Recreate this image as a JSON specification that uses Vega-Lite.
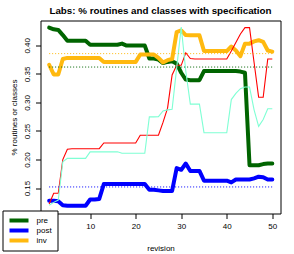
{
  "$schema": "https://vega.github.io/schema/vega-lite/v6.json",
  "width": 240,
  "height": 193,
  "autosize": {"type": "none"},
  "padding": {"left": 40.5, "top": 20.5, "right": 13.5, "bottom": 40.5},
  "background": "white",
  "title": {
    "text": "Labs: % routines and classes with specification",
    "font": "Liberation Sans",
    "fontSize": 9.8,
    "fontWeight": "bold",
    "color": "black",
    "anchor": "middle",
    "frame": "group",
    "offset": 5
  },
  "config": {
    "view": {"stroke": "black", "strokeWidth": 1},
    "axis": {
      "grid": false,
      "domain": false,
      "ticks": true,
      "tickColor": "black",
      "tickSize": 5,
      "labelOverlap": false,
      "labelFont": "Liberation Sans",
      "labelFontSize": 8,
      "labelColor": "black",
      "titleFont": "Liberation Sans",
      "titleFontSize": 8,
      "titleFontWeight": "normal",
      "titleColor": "black"
    },
    "legend": {
      "labelFont": "Liberation Sans",
      "labelFontSize": 8,
      "labelColor": "black"
    }
  },
  "datasets": {
    "series": [
      {"rev": 1, "pre": 0.431, "post": 0.128, "inv": 0.366, "red": 0.122, "aqua": 0.120},
      {"rev": 2, "pre": 0.428, "post": 0.128, "inv": 0.349, "red": 0.141, "aqua": 0.125},
      {"rev": 3, "pre": 0.427, "post": 0.127, "inv": 0.349, "red": 0.141, "aqua": 0.129},
      {"rev": 4, "pre": 0.418, "post": 0.120, "inv": 0.376, "red": 0.200, "aqua": 0.196},
      {"rev": 5, "pre": 0.408, "post": 0.119, "inv": 0.378, "red": 0.218, "aqua": 0.202},
      {"rev": 6, "pre": 0.408, "post": 0.119, "inv": 0.378, "red": 0.219, "aqua": 0.202},
      {"rev": 7, "pre": 0.408, "post": 0.119, "inv": 0.378, "red": 0.219, "aqua": 0.202},
      {"rev": 8, "pre": 0.408, "post": 0.119, "inv": 0.378, "red": 0.219, "aqua": 0.202},
      {"rev": 9, "pre": 0.408, "post": 0.119, "inv": 0.378, "red": 0.219, "aqua": 0.202},
      {"rev": 10, "pre": 0.401, "post": 0.130, "inv": 0.378, "red": 0.219, "aqua": 0.2135},
      {"rev": 11, "pre": 0.401, "post": 0.130, "inv": 0.378, "red": 0.219, "aqua": 0.2135},
      {"rev": 12, "pre": 0.401, "post": 0.131, "inv": 0.378, "red": 0.219, "aqua": 0.2135},
      {"rev": 13, "pre": 0.401, "post": 0.157, "inv": 0.371, "red": 0.229, "aqua": 0.2135},
      {"rev": 14, "pre": 0.401, "post": 0.157, "inv": 0.371, "red": 0.229, "aqua": 0.2135},
      {"rev": 15, "pre": 0.401, "post": 0.157, "inv": 0.371, "red": 0.229, "aqua": 0.2135},
      {"rev": 16, "pre": 0.401, "post": 0.157, "inv": 0.371, "red": 0.229, "aqua": 0.2135},
      {"rev": 17, "pre": 0.403, "post": 0.157, "inv": 0.371, "red": 0.229, "aqua": 0.211},
      {"rev": 18, "pre": 0.3995, "post": 0.157, "inv": 0.371, "red": 0.229, "aqua": 0.211},
      {"rev": 19, "pre": 0.3995, "post": 0.157, "inv": 0.371, "red": 0.229, "aqua": 0.211},
      {"rev": 20, "pre": 0.3995, "post": 0.157, "inv": 0.371, "red": 0.229, "aqua": 0.211},
      {"rev": 21, "pre": 0.3995, "post": 0.157, "inv": 0.384, "red": 0.2425, "aqua": 0.211},
      {"rev": 22, "pre": 0.3995, "post": 0.157, "inv": 0.384, "red": 0.2425, "aqua": 0.211},
      {"rev": 23, "pre": 0.377, "post": 0.147, "inv": 0.384, "red": 0.2425, "aqua": 0.2747},
      {"rev": 24, "pre": 0.377, "post": 0.147, "inv": 0.384, "red": 0.2425, "aqua": 0.2747},
      {"rev": 25, "pre": 0.375, "post": 0.146, "inv": 0.378, "red": 0.2425, "aqua": 0.275},
      {"rev": 26, "pre": 0.369, "post": 0.145, "inv": 0.370, "red": 0.265, "aqua": 0.285},
      {"rev": 27, "pre": 0.371, "post": 0.145, "inv": 0.374, "red": 0.290, "aqua": 0.287},
      {"rev": 28, "pre": 0.372, "post": 0.145, "inv": 0.376, "red": 0.348, "aqua": 0.288},
      {"rev": 29, "pre": 0.368, "post": 0.185, "inv": 0.423, "red": 0.365, "aqua": 0.360},
      {"rev": 30, "pre": 0.352, "post": 0.182, "inv": 0.426, "red": 0.365, "aqua": 0.432},
      {"rev": 31, "pre": 0.340, "post": 0.193, "inv": 0.418, "red": 0.387, "aqua": 0.355},
      {"rev": 32, "pre": 0.339, "post": 0.180, "inv": 0.4175, "red": 0.377, "aqua": 0.297},
      {"rev": 33, "pre": 0.339, "post": 0.180, "inv": 0.4175, "red": 0.376, "aqua": 0.297},
      {"rev": 34, "pre": 0.339, "post": 0.180, "inv": 0.4175, "red": 0.376, "aqua": 0.297},
      {"rev": 35, "pre": 0.355, "post": 0.163, "inv": 0.390, "red": 0.376, "aqua": 0.247},
      {"rev": 36, "pre": 0.355, "post": 0.163, "inv": 0.390, "red": 0.376, "aqua": 0.247},
      {"rev": 37, "pre": 0.355, "post": 0.163, "inv": 0.390, "red": 0.376, "aqua": 0.247},
      {"rev": 38, "pre": 0.355, "post": 0.163, "inv": 0.390, "red": 0.376, "aqua": 0.247},
      {"rev": 39, "pre": 0.355, "post": 0.163, "inv": 0.390, "red": 0.376, "aqua": 0.247},
      {"rev": 40, "pre": 0.355, "post": 0.163, "inv": 0.390, "red": 0.376, "aqua": 0.247},
      {"rev": 41, "pre": 0.355, "post": 0.160, "inv": 0.398, "red": 0.390, "aqua": 0.305},
      {"rev": 42, "pre": 0.355, "post": 0.165, "inv": 0.391, "red": 0.405, "aqua": 0.316},
      {"rev": 43, "pre": 0.354, "post": 0.165, "inv": 0.381, "red": 0.420, "aqua": 0.324},
      {"rev": 44, "pre": 0.352, "post": 0.165, "inv": 0.403, "red": 0.431, "aqua": 0.327},
      {"rev": 45, "pre": 0.190, "post": 0.165, "inv": 0.403, "red": 0.431, "aqua": 0.327},
      {"rev": 46, "pre": 0.190, "post": 0.167, "inv": 0.407, "red": 0.370, "aqua": 0.287},
      {"rev": 47, "pre": 0.190, "post": 0.170, "inv": 0.409, "red": 0.309, "aqua": 0.258},
      {"rev": 48, "pre": 0.192, "post": 0.169, "inv": 0.406, "red": 0.309, "aqua": 0.270},
      {"rev": 49, "pre": 0.193, "post": 0.165, "inv": 0.391, "red": 0.376, "aqua": 0.289},
      {"rev": 50, "pre": 0.193, "post": 0.165, "inv": 0.389, "red": 0.376, "aqua": 0.289}
    ],
    "means": [
      {"group": "pre", "level": 0.362},
      {"group": "post", "level": 0.152},
      {"group": "inv", "level": 0.3855}
    ]
  },
  "layer": [
    {
      "data": {"name": "series"},
      "transform": [{"fold": ["pre", "post", "inv"], "as": ["group", "share"]}],
      "mark": {"type": "line", "strokeWidth": 4, "strokeJoin": "round", "strokeCap": "round"},
      "encoding": {
        "x": {
          "field": "rev", "type": "quantitative", "title": "revision",
          "scale": {"domain": [-0.9, 51.8], "nice": false, "zero": false},
          "axis": {"values": [10, 20, 30, 40, 50], "tickCount": 20, "labelPadding": 4, "titlePadding": 14}
        },
        "y": {
          "field": "share", "type": "quantitative", "title": "% routines or classes",
          "scale": {"domain": [0.1055, 0.4435], "nice": false, "zero": false},
          "axis": {"values": [0.15, 0.2, 0.25, 0.3, 0.35, 0.4], "tickCount": 20, "format": ".2f", "labelAngle": -90, "labelAlign": "center", "labelBaseline": "bottom", "labelPadding": 4, "titlePadding": 5, "labelOverlap": false}
        },
        "color": {
          "field": "group", "type": "nominal",
          "scale": {"domain": ["pre", "post", "inv"], "range": ["#006400", "#0000FF", "#FFB90F"]},
          "legend": {
            "orient": "none", "legendX": -38, "legendY": 190, "title": null,
            "symbolType": "stroke", "symbolStrokeWidth": 4, "symbolSize": 361,
            "clipHeight": 10,
            "strokeColor": "black", "fillColor": "white", "padding": 5,
            "rowPadding": 0, "labelOffset": 6
          }
        }
      }
    },
    {
      "data": {"name": "series"},
      "mark": {"type": "line", "color": "#FF0000", "strokeWidth": 1.1},
      "encoding": {
        "x": {"field": "rev", "type": "quantitative", "title": "revision"},
        "y": {"field": "red", "type": "quantitative", "title": "% routines or classes"}
      }
    },
    {
      "data": {"name": "series"},
      "mark": {"type": "line", "color": "#7FFFD4", "strokeWidth": 1.1},
      "encoding": {
        "x": {"field": "rev", "type": "quantitative", "title": "revision"},
        "y": {"field": "aqua", "type": "quantitative", "title": "% routines or classes"}
      }
    },
    {
      "data": {"name": "means"},
      "mark": {"type": "rule", "strokeDash": [1, 2], "strokeWidth": 1},
      "encoding": {
        "x": {"datum": 1},
        "x2": {"datum": 50},
        "y": {"field": "level", "type": "quantitative", "title": "% routines or classes"},
        "stroke": {
          "field": "group", "type": "nominal",
          "scale": {"domain": ["pre", "post", "inv"], "range": ["#006400", "#0000FF", "#FFB90F"]},
          "legend": null
        }
      }
    }
  ]
}
